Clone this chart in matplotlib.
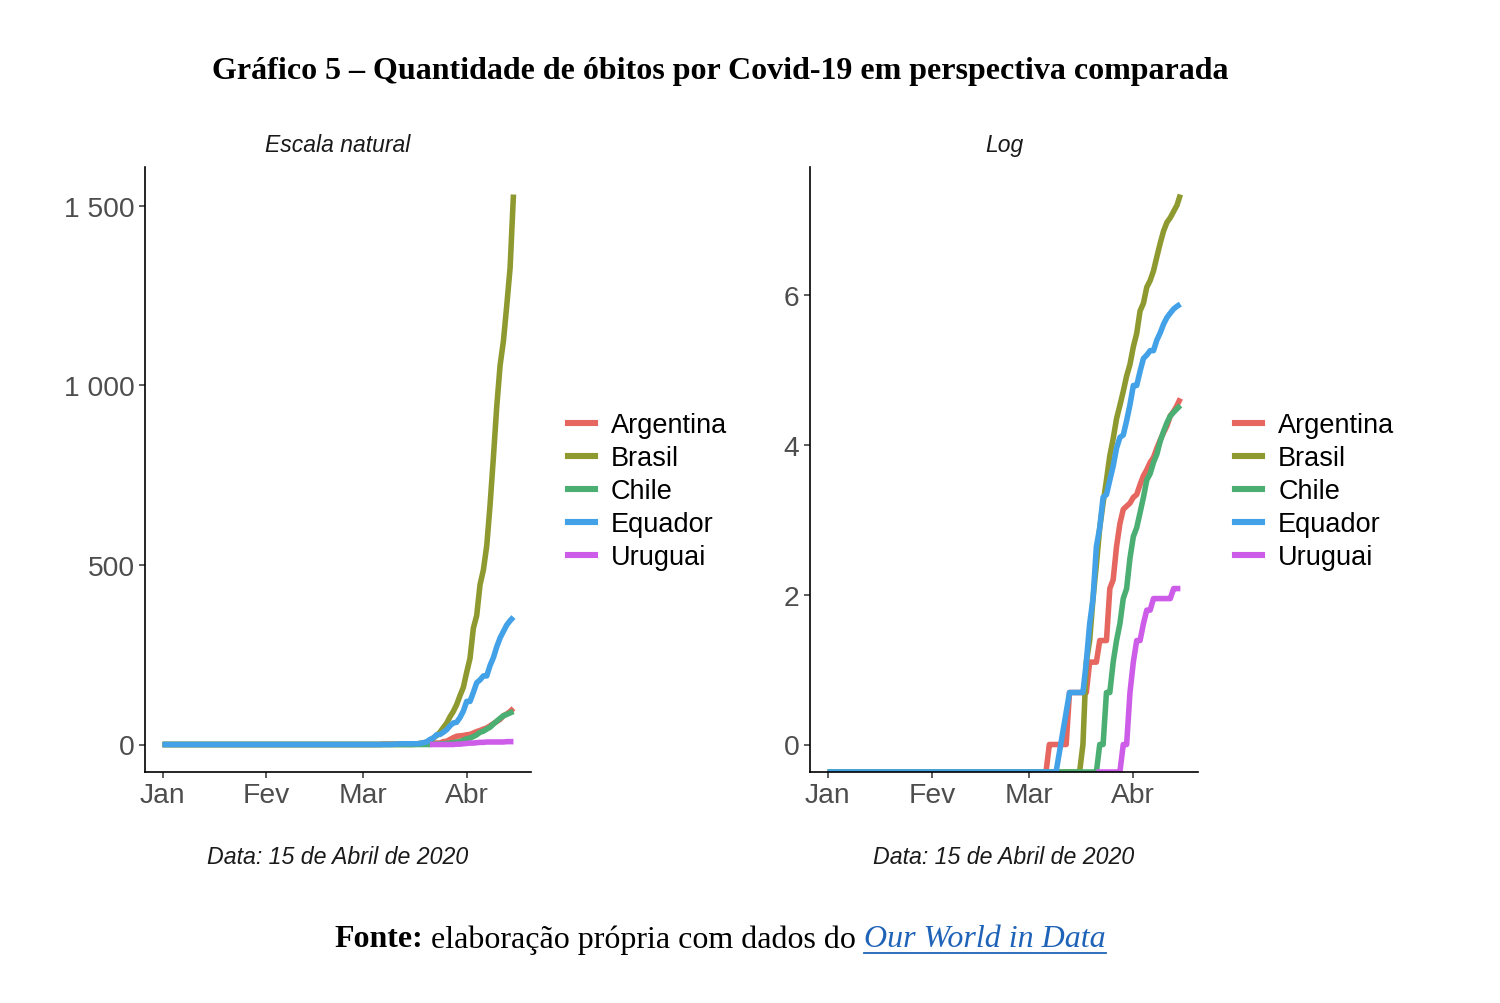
import numpy as np
import pandas as pd
import matplotlib
matplotlib.use("Agg")
import matplotlib.pyplot as plt
from matplotlib.lines import Line2D

# dias de 1 jan a 15 abr 2020
datas = pd.date_range("2020-01-01", "2020-04-15", freq="D")

paises = ["Argentina", "Brasil", "Chile", "Equador", "Uruguai"]
cores = ["#E5675F", "#8E9A2F", "#4BAE72", "#43A1E8", "#CD5CE8"]

# obitos acumulados em janeiro e fevereiro (nenhum)
zeros_jan_fev = [0] * 60
sem_dado_jan_fev = [None] * 60

# obitos acumulados de 1 mar a 15 abr
argentina_mar_abr = [0, 0, 0, 0, 0, 0, 1, 1, 1, 1, 1, 1, 2, 2, 2, 2, 2, 2,
                     3, 3, 3, 4, 4, 4, 8, 9, 14, 19, 23, 24, 25,
                     27, 28, 32, 36, 39, 43, 46, 52, 58, 64, 70, 80, 85, 92, 101]
brasil_mar_abr = [0, 0, 0, 0, 0, 0, 0, 0, 0, 0, 0, 0, 0, 0, 0, 0,
                  1, 3, 4, 7, 11, 18, 25, 34, 47, 59, 77, 92, 111, 136, 159,
                  201, 240, 324, 359, 445, 486, 553, 667, 800, 941, 1056, 1124,
                  1223, 1328, 1532]
chile_mar_abr = [0, 0, 0, 0, 0, 0, 0, 0, 0, 0, 0, 0, 0, 0, 0, 0, 0, 0, 0, 0, 0,
                 1, 1, 2, 2, 3, 4, 5, 7, 8, 12,
                 16, 18, 22, 27, 34, 37, 43, 48, 57, 65, 73, 80, 84, 88, 92]
equador_mar_abr = [0, 0, 0, 0, 0, 0, 0, 0, 0, None, None, None,
                   2, 2, 2, 2, 2, 3, 5, 7, 14, 18, 27, 28, 34, 41, 52, 60, 62, 75, 93,
                   120, 120, 145, 172, 180, 191, 191, 220, 242, 272, 297, 315, 333,
                   345, 355]
uruguai_mar_abr = [None] * 20 + [0, 0, 0, 0, 0, 0, 0, 0, 1, 1, 2,
                                 3, 4, 4, 5, 6, 6, 7, 7, 7, 7, 7, 7, 8, 8, 8]

series = {
    "Argentina": zeros_jan_fev + argentina_mar_abr,
    "Brasil": zeros_jan_fev + brasil_mar_abr,
    "Chile": zeros_jan_fev + chile_mar_abr,
    "Equador": zeros_jan_fev + equador_mar_abr,
    "Uruguai": sem_dado_jan_fev + uruguai_mar_abr,
}
df = pd.DataFrame(series, index=datas, dtype=float)

meses_pos = pd.to_datetime(["2020-01-01", "2020-02-01", "2020-03-01", "2020-04-01"])
meses_rot = ["Jan", "Fev", "Mar", "Abr"]

plt.rcParams["font.family"] = ["Liberation Sans", "DejaVu Sans"]

fig = plt.figure(figsize=(15, 10.04), dpi=100)
ax1 = fig.add_axes([145 / 1500, 1 - 773 / 1004, 386 / 1500, 605 / 1004])
ax2 = fig.add_axes([810 / 1500, 1 - 773 / 1004, 388 / 1500, 605 / 1004])

maximo = df.max().max()
lim_nat = (-0.05 * maximo, 1.05 * maximo)
log_max = np.log(maximo)
lim_log = (-0.05 * log_max, 1.05 * log_max)

for pais, cor in zip(paises, cores):
    s = df[pais].dropna()
    ax1.plot(s.index, s.values, color=cor, lw=4, solid_capstyle="butt")
    with np.errstate(divide="ignore"):
        lv = np.log(s.values)
    lv[np.isneginf(lv)] = lim_log[0]
    ax2.plot(s.index, lv, color=cor, lw=4, solid_capstyle="butt")

pad = pd.Timedelta(days=0.05 * (datas[-1] - datas[0]).days)
for ax in (ax1, ax2):
    ax.set_xlim(datas[0] - pad, datas[-1] + pad)
    ax.set_xticks(meses_pos)
    ax.set_xticklabels(meses_rot)
    for s in ("top", "right"):
        ax.spines[s].set_visible(False)
    for s in ("left", "bottom"):
        ax.spines[s].set_linewidth(1.2)
        ax.spines[s].set_color("black")
    ax.tick_params(axis="both", length=4.5, width=1.1, color="#333333",
                   labelcolor="#4D4D4D", labelsize=20.3, pad=3)

ax1.set_ylim(*lim_nat)
ax1.set_yticks([0, 500, 1000, 1500])
ax1.set_yticklabels(["0", "500", "1 000", "1 500"])
ax2.set_ylim(*lim_log)
ax2.set_yticks([0, 2, 4, 6])
ax2.set_yticklabels(["0", "2", "4", "6"])

for ax, titulo in ((ax1, "Escala natural"), (ax2, "Log")):
    ax.text(0.5, 1.038, titulo, transform=ax.transAxes, ha="center", va="center",
            fontsize=16.5, style="italic", color="#1A1A1A")
    ax.text(0.5, -0.139, "Data: 15 de Abril de 2020", transform=ax.transAxes,
            ha="center", va="center", fontsize=16.7, style="italic", color="#1A1A1A")
    handles = [Line2D([], [], color=c, lw=4.4) for c in cores]
    ax.legend(handles, paises, loc="center left", bbox_to_anchor=(1.095, 0.464),
              frameon=False, fontsize=19.5, handlelength=1.0, handletextpad=0.6,
              labelspacing=0.26, borderpad=0, borderaxespad=0)

fig.text(0.48, 1 - 72 / 1004, "Gráfico 5 – Quantidade de óbitos por Covid-19 em perspectiva comparada",
         ha="center", va="center", fontsize=23, fontweight="bold",
         family="Liberation Serif", color="black")

# linha da fonte com estilos misturados
renderer = fig.canvas.get_renderer()
partes = [("Fonte:", dict(fontweight="bold", color="black")),
          (" elaboração própria com dados do ", dict(color="black")),
          ("Our World in Data", dict(style="italic", color="#1F63B8"))]
y_fonte = 1 - 940 / 1004
textos = []
for txt, kw in partes:
    t = fig.text(0, y_fonte, txt, ha="left", va="center", fontsize=23,
                 family="Liberation Serif", **kw)
    textos.append(t)
larguras = [t.get_window_extent(renderer).width / fig.bbox.width for t in textos]
x = 0.48 - sum(larguras) / 2
for t, w in zip(textos, larguras):
    t.set_x(x)
    x += w
bb = textos[-1].get_window_extent(renderer)
y_sub = (bb.y0 + 1) / fig.bbox.height
fig.add_artist(Line2D([bb.x0 / fig.bbox.width, bb.x1 / fig.bbox.width], [y_sub, y_sub],
                      transform=fig.transFigure, color="#1F63B8", lw=1.3))

fig.savefig("out.png", dpi=100, facecolor="white")
